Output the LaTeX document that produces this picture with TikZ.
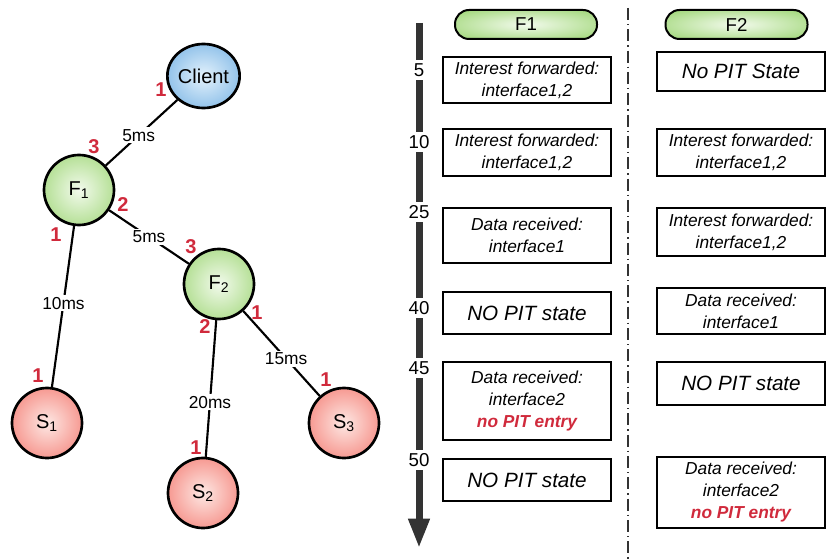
\documentclass[tikz,border=0pt]{standalone}
\usepackage{fontspec}
\setmainfont{Liberation Sans}
\usetikzlibrary{shapes.geometric,arrows.meta}
\definecolor{portred}{RGB}{208,42,60}
\definecolor{bardark}{RGB}{51,51,51}
\definecolor{bluein}{RGB}{228,242,252}
\definecolor{blueout}{RGB}{92,163,222}
\definecolor{greenin}{RGB}{242,250,236}
\definecolor{greenout}{RGB}{140,206,92}
\definecolor{redin}{RGB}{253,232,228}
\definecolor{redout}{RGB}{242,100,90}
\pgfdeclareradialshading{blueball}{\pgfpoint{0bp}{0bp}}{color(0bp)=(bluein);color(42bp)=(blueout);color(50bp)=(blueout)}
\pgfdeclareradialshading{greenball}{\pgfpoint{0bp}{0bp}}{color(0bp)=(greenin);color(42bp)=(greenout);color(50bp)=(greenout)}
\pgfdeclareradialshading{redball}{\pgfpoint{0bp}{0bp}}{color(0bp)=(redin);color(42bp)=(redout);color(50bp)=(redout)}
\begin{document}
\begin{tikzpicture}[x=0.75pt,y=-0.75pt,
  ball/.style={circle,draw,line width=2pt,minimum size=52.5pt,inner sep=0pt,font=\fontsize{15}{18}\selectfont},
  link/.style={line width=1.6pt},
  delay/.style={fill=white,inner sep=1.5pt,font=\fontsize{13}{15}\selectfont},
  port/.style={text=portred,inner sep=0pt,font=\fontsize{15}{18}\selectfont\bfseries},
  pill/.style={draw,line width=1.5pt,rounded corners=10.5pt,shading=greenball,minimum width=106.5pt,minimum height=21.75pt,font=\fontsize{14}{17}\selectfont},
  pitbox/.style={draw,line width=1pt,minimum width=126pt,inner sep=0pt,align=center,font=\fontsize{13}{16.5}\selectfont\itshape},
  bigtext/.style={font=\fontsize{15.5}{18}\selectfont\itshape},
  tick/.style={fill=white,inner sep=2.5pt,font=\fontsize{14}{17}\selectfont},
  divider/.style={bardark,line width=0.8pt,dash pattern=on 9pt off 3pt on 1pt off 3pt}]
  \useasboundingbox (0,0) rectangle (830,559);

  % topology
  \node[ball,ellipse,shading=blueball,minimum width=53.25pt,minimum height=48pt] (client) at (203.5,76) {Client};
  \node[ball,shading=greenball] (f1) at (79,190) {F\textsubscript{1}};
  \node[ball,shading=greenball] (f2) at (219,284) {F\textsubscript{2}};
  \node[ball,shading=redball] (s1) at (47,423) {S\textsubscript{1}};
  \node[ball,shading=redball] (s2) at (203,493) {S\textsubscript{2}};
  \node[ball,shading=redball] (s3) at (344,423) {S\textsubscript{3}};

  \draw[link] (client) -- node[delay,pos=0.54] (d1) {5ms} (f1);
  \draw[link] (f1) -- node[delay,pos=0.5] (d2) {5ms} (f2);
  \draw[link] (f1) -- node[delay,pos=0.48] (d3) {10ms} (s1);
  \draw[link] (f2) -- node[delay,pos=0.6] (d4) {20ms} (s2);
  \draw[link] (f2) -- node[delay,pos=0.56] (d5) {15ms} (s3);

  \node[port] (pc1) at (161,90) {1};
  \node[port] (pf13) at (94,147) {3};
  \node[port] (pf12) at (123,205) {2};
  \node[port] (pf11) at (56,235) {1};
  \node[port] (pf23) at (191,247) {3};
  \node[port] (pf22) at (205,327) {2};
  \node[port] (pf21) at (257,313) {1};
  \node[port] (ps11) at (38,376) {1};
  \node[port] (ps21) at (196,448) {1};
  \node[port] (ps31) at (326,380) {1};

  % time axis
  \coordinate (ttop) at (419,23);
  \coordinate (tend) at (419,548);
  \draw[bardark,line width=5.25pt,-{Triangle[width=15pt,length=22pt]}] (ttop) -- (tend);
  \foreach \t/\y in {5/70,10/142,25/212,40/308,45/368,50/460}
    \node[tick] (t\t) at (419,\y) {\t};

  \coordinate (dtop) at (628,8);
  \coordinate (dbot) at (628,559);
  \draw[divider] (dtop) -- (dbot);

  % PIT state per forwarder
  \node[pill] (h1) at (526,24.5) {F1};
  \node[pill] (h2) at (736.5,24.5) {F2};

  \node[pitbox,minimum height=34.5pt] (a5) at (527,80) {Interest forwarded:\\interface1,2};
  \node[pitbox,minimum height=35.25pt] (a10) at (527,152.5) {Interest forwarded:\\interface1,2};
  \node[pitbox,minimum height=41.25pt] (a25) at (527,235.5) {Data received:\\interface1};
  \node[pitbox,bigtext,minimum height=31.5pt] (a40) at (527,313) {NO PIT state};
  \node[pitbox,minimum height=58.5pt] (a45) at (527,401) {Data received:\\interface2\\\textcolor{portred}{\bfseries no PIT entry}};
  \node[pitbox,bigtext,minimum height=31.5pt] (a50) at (527,480) {NO PIT state};

  \node[pitbox,bigtext,minimum height=29.25pt] (b5) at (741,71.5) {No PIT State};
  \node[pitbox,minimum height=35.25pt] (b10) at (741,152.5) {Interest forwarded:\\interface1,2};
  \node[pitbox,minimum height=36pt] (b25) at (741,232) {Interest forwarded:\\interface1,2};
  \node[pitbox,minimum height=34.5pt] (b40) at (741,311) {Data received:\\interface1};
  \node[pitbox,bigtext,minimum height=32.25pt] (b45) at (741,383.5) {NO PIT state};
  \node[pitbox,minimum height=53.25pt] (b50) at (741,492.5) {Data received:\\interface2\\\textcolor{portred}{\bfseries no PIT entry}};
\end{tikzpicture}
\end{document}
